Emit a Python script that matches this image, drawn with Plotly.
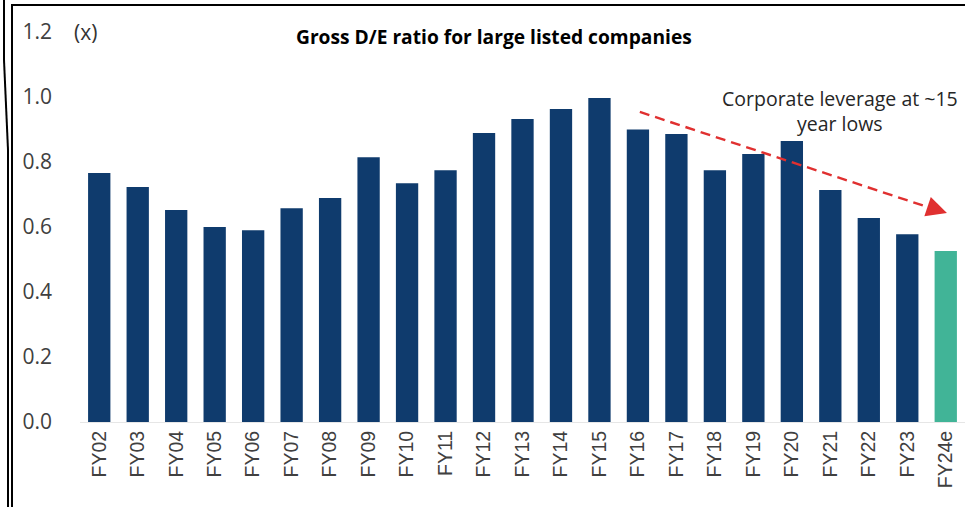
import plotly.graph_objects as go

# Gross debt-to-equity ratio, large listed companies
fiscal_years = ["FY02", "FY03", "FY04", "FY05", "FY06", "FY07", "FY08", "FY09",
                "FY10", "FY11", "FY12", "FY13", "FY14", "FY15", "FY16", "FY17",
                "FY18", "FY19", "FY20", "FY21", "FY22", "FY23", "FY24e"]
de_ratio = [0.766, 0.723, 0.652, 0.600, 0.590, 0.658, 0.689, 0.815,
            0.735, 0.775, 0.889, 0.932, 0.963, 0.997, 0.900, 0.886,
            0.775, 0.825, 0.865, 0.714, 0.628, 0.578, 0.526]
y_ticks = [0.0, 0.2, 0.4, 0.6, 0.8, 1.0, 1.2]

NAVY = "#0f3b6d"
TEAL = "#41b497"
bar_colors = [TEAL if fy.endswith("e") else NAVY for fy in fiscal_years]

W, H = 965, 507
ML, MR, MT, MB = 80, 0, 32, 85
PW = W - ML - MR
PH = H - MT - MB


def px_x(p):
    return (p - ML) / PW


def px_y(p):
    return 1 - (p - MT) / PH


fig = go.Figure(go.Bar(
    x=fiscal_years, y=de_ratio, marker=dict(color=bar_colors, line_width=0),
    hoverinfo="x+y",
))

# dashed downward trend arrow
x0, y0 = 14.05, 0.954
x1, y1 = 22.03, 0.643
fig.add_shape(type="line", xref="x", yref="y", x0=x0, y0=y0, x1=x1 - 0.35, y1=y1 + 0.0125,
              line=dict(color="#e03030", width=2.4, dash="10px,6px"))
fig.add_annotation(x=x1, y=y1, xref="x", yref="y", ax=-15, ay=-5, text="",
                   showarrow=True, arrowhead=2, arrowsize=1.7, arrowwidth=2.4,
                   arrowcolor="#e03030")

fig.add_annotation(x=px_x(840), y=px_y(111), xref="paper", yref="paper",
                   text="Corporate leverage at ~15<br>year lows", showarrow=False,
                   font=dict(family="Open Sans", size=19.5, color="#262626"),
                   align="center", xanchor="center", yanchor="middle")

fig.add_annotation(x=px_x(494), y=px_y(37), xref="paper", yref="paper",
                   text="<b>Gross D/E ratio for large listed companies</b>", showarrow=False,
                   font=dict(family="Open Sans", size=19.2, color="#000000"),
                   xanchor="center", yanchor="middle")

fig.add_annotation(x=px_x(72), y=px_y(32), xref="paper", yref="paper",
                   text="(x)", showarrow=False,
                   font=dict(family="Open Sans", size=21, color="#333333"),
                   xanchor="left", yanchor="middle")

# frame lines around the panel
frame = dict(type="line", xref="paper", yref="paper", line=dict(color="#000000", width=2))
fig.add_shape(**frame, x0=px_x(4), y0=px_y(0), x1=px_x(4), y1=px_y(60))
fig.add_shape(**frame, x0=px_x(4), y0=px_y(60), x1=px_x(8), y1=px_y(150))
fig.add_shape(**frame, x0=px_x(8), y0=px_y(150), x1=px_x(8), y1=px_y(507))
fig.add_shape(**frame, x0=px_x(12), y0=px_y(5), x1=px_x(12), y1=px_y(507))
fig.add_shape(**frame, x0=px_x(11), y0=px_y(5), x1=px_x(965), y1=px_y(5))

fig.update_layout(
    width=W, height=H,
    margin=dict(l=ML, r=MR, t=MT, b=MB),
    paper_bgcolor="white", plot_bgcolor="white",
    bargap=0.42, showlegend=False,
    xaxis=dict(type="category", tickangle=-90, showgrid=False, ticks="",
               showline=True, linecolor="#e6e6e6", linewidth=1,
               tickfont=dict(family="Liberation Sans", size=19.5, color="#404040")),
    yaxis=dict(range=[0, 1.2], tickvals=y_ticks, ticktext=[f"{v:.1f}" for v in y_ticks],
               showgrid=False, zeroline=False, showline=False, ticks="",
               ticklabelstandoff=27,
               tickfont=dict(family="Open Sans", size=21, color="#404040")),
)

fig.write_html("out.html")
